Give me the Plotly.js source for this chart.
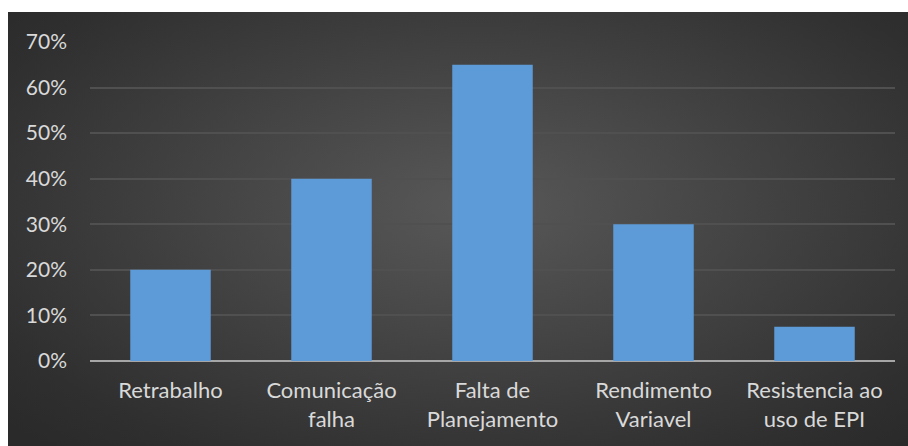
<!DOCTYPE html>
<html>
<head>
<meta charset="utf-8">
<script src="https://cdn.plot.ly/plotly-3.0.1.min.js"></script>
<style>
html,body{margin:0;padding:0;background:#fff;}
#wrap{position:relative;width:908px;height:446px;background:#fff;overflow:hidden;}
#bg{position:absolute;left:8px;top:12px;width:900px;height:434px;
 background:radial-gradient(ellipse 70% 75% at 52% 45%, #585858 0%, #454545 40%, #2f2f2f 85%, #2a2a2a 100%);}
#chart{position:absolute;left:0;top:0;width:908px;height:446px;}
</style>
</head>
<body>
<div id="wrap"><div id="bg"></div><div id="chart"></div></div>
<script>
const categories = ["Retrabalho", "Comunicação<br>falha", "Falta de<br>Planejamento", "Rendimento<br>Variavel", "Resistencia ao<br>uso de EPI"];
const values = [0.20, 0.40, 0.65, 0.30, 0.075];
const tickVals = [0, 0.1, 0.2, 0.3, 0.4, 0.5, 0.6, 0.7];
const tickText = ["0%", "10%", "20%", "30%", "40%", "50%", "60%", "70%"];

const trace = {
  type: "bar",
  x: categories,
  y: values,
  marker: {color: "#5d9ad8", line: {width: 0}},
  hoverinfo: "skip"
};
const layout = {
  width: 908, height: 446,
  margin: {l: 90, r: 13, t: 42, b: 85, pad: 0},
  paper_bgcolor: "rgba(0,0,0,0)",
  plot_bgcolor: "rgba(0,0,0,0)",
  bargap: 0.5,
  showlegend: false,
  font: {family: "Lato, sans-serif", size: 22, color: "#d9d9d9"},
  xaxis: {
    showgrid: false, zeroline: false, showline: false, ticks: "",
    ticklabelstandoff: 14,
    tickfont: {family: "Lato, sans-serif", size: 22, color: "#d9d9d9"}
  },
  yaxis: {
    range: [0, 0.7], tickvals: tickVals, ticktext: tickText,
    showgrid: true, gridcolor: "#505050", gridwidth: 2,
    zeroline: true, zerolinecolor: "#a6a6a6", zerolinewidth: 2,
    showline: false, ticks: "", ticklabelstandoff: 22,
    tickfont: {family: "Lato, sans-serif", size: 21, color: "#d9d9d9"}
  }
};
Plotly.newPlot("chart", [trace], layout, {displayModeBar: false, staticPlot: true});
</script>
</body>
</html>
